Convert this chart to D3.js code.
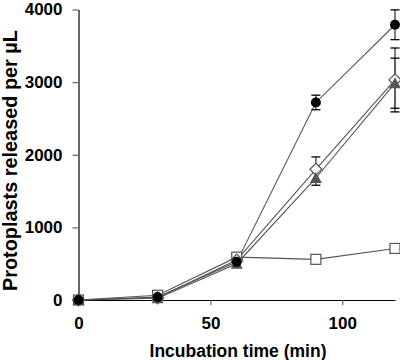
<!DOCTYPE html>
<html><head><meta charset="utf-8">
<script src="https://cdn.jsdelivr.net/npm/d3@7"></script>
<style>body{margin:0;background:#fff}svg{display:block}text{font-family:"Liberation Sans",Arial,sans-serif;font-weight:bold;fill:#000}</style>
</head><body><svg id="c" width="400" height="360"></svg>
<script>
const times = [0, 30, 60, 90, 120];
const circleVals = [0, 40, 525, 2720, 3790];
const circleErr = [0, 0, 0, 100, 205];
const diamondVals = [0, 30, 550, 1800, 3030];
const diamondErr = [0, 0, 0, 170, 440];
const triangleVals = [0, 25, 500, 1680, 2985];
const triangleErr = [0, 0, 0, 100, 345];
const squareVals = [0, 65, 590, 560, 710];
const squareErr = [0, 0, 0, 0, 0];
const xTicks = [0, 50, 100];
const yTicks = [0, 1000, 2000, 3000, 4000];

const svg = d3.select("#c");
const x = d3.scaleLinear().domain([0, 120]).range([78.5, 395]);
const y = d3.scaleLinear().domain([0, 4000]).range([300, 9.5]);
const col = "#555";

const xAxis = svg.append("g").attr("transform", "translate(0,300)")
  .call(d3.axisBottom(x).tickValues(xTicks).tickFormat(d3.format("d")).tickSize(5).tickPadding(12).tickSizeOuter(0));
const yAxis = svg.append("g").attr("transform", "translate(78.5,0)")
  .call(d3.axisLeft(y).tickValues(yTicks).tickFormat(d3.format("d")).tickSize(6).tickPadding(10).tickSizeOuter(0));
[xAxis, yAxis].forEach(a => {
  a.select(".domain").attr("stroke", "#000").attr("stroke-width", 1.2);
  a.selectAll(".tick line").attr("stroke", "#666").attr("stroke-width", 1.2);
  a.selectAll(".tick text").style("font-size", "17px").style("font-weight", "bold").attr("fill", "#000");
});

svg.append("text").attr("x", 238).attr("y", 357).attr("text-anchor", "middle")
  .style("font-size", "17.5px").text("Incubation time (min)");
const yt = svg.append("text").attr("text-anchor", "start")
  .style("font-size", "17px").text("Protoplasts released per µL");
const len = yt.node().getComputedTextLength();
const fs = 17 * 261 / len;
yt.style("font-size", fs + "px").attr("transform", "translate(17,291) rotate(-90)");

const series = [
  {vals: squareVals, err: squareErr, shape: "square"},
  {vals: diamondVals, err: diamondErr, shape: "diamond"},
  {vals: triangleVals, err: triangleErr, shape: "triangle"},
  {vals: circleVals, err: circleErr, shape: "circle"}
];
const line = d3.line().x((d, i) => x(times[i])).y(d => y(d));
series.forEach(s => {
  svg.append("path").attr("d", line(s.vals)).attr("fill", "none").attr("stroke", col).attr("stroke-width", 1.1);
});
series.forEach(s => {
  const g = svg.append("g");
  s.vals.forEach((v, i) => {
    const e = s.err[i];
    if (e > 0) {
      const cx = x(times[i]);
      g.append("line").attr("x1", cx).attr("x2", cx).attr("y1", y(v - e)).attr("y2", y(v + e)).attr("stroke", col).attr("stroke-width", 1.5);
      [v - e, v + e].forEach(t => g.append("line").attr("x1", cx - 4.5).attr("x2", cx + 4.5).attr("y1", y(t)).attr("y2", y(t)).attr("stroke", "#000").attr("stroke-width", 1.3));
    }
  });
});
series.forEach(s => {
  const g = svg.append("g");
  s.vals.forEach((v, i) => {
    const cx = x(times[i]), cy = y(v);
    if (s.shape === "circle") {
      g.append("circle").attr("cx", cx).attr("cy", cy).attr("r", 5).attr("fill", "#000");
    } else if (s.shape === "square") {
      g.append("rect").attr("x", cx - 5).attr("y", cy - 5).attr("width", 10).attr("height", 10).attr("fill", "#fff").attr("stroke", col).attr("stroke-width", 1.2);
    } else if (s.shape === "diamond") {
      g.append("path").attr("d", `M${cx},${cy-6}L${cx+6},${cy}L${cx},${cy+6}L${cx-6},${cy}Z`).attr("fill", "#fff").attr("stroke", col).attr("stroke-width", 1.2);
    } else {
      g.append("path").attr("d", `M${cx},${cy-6}L${cx+6},${cy+5}L${cx-6},${cy+5}Z`).attr("fill", col);
    }
  });
});
</script></body></html>
